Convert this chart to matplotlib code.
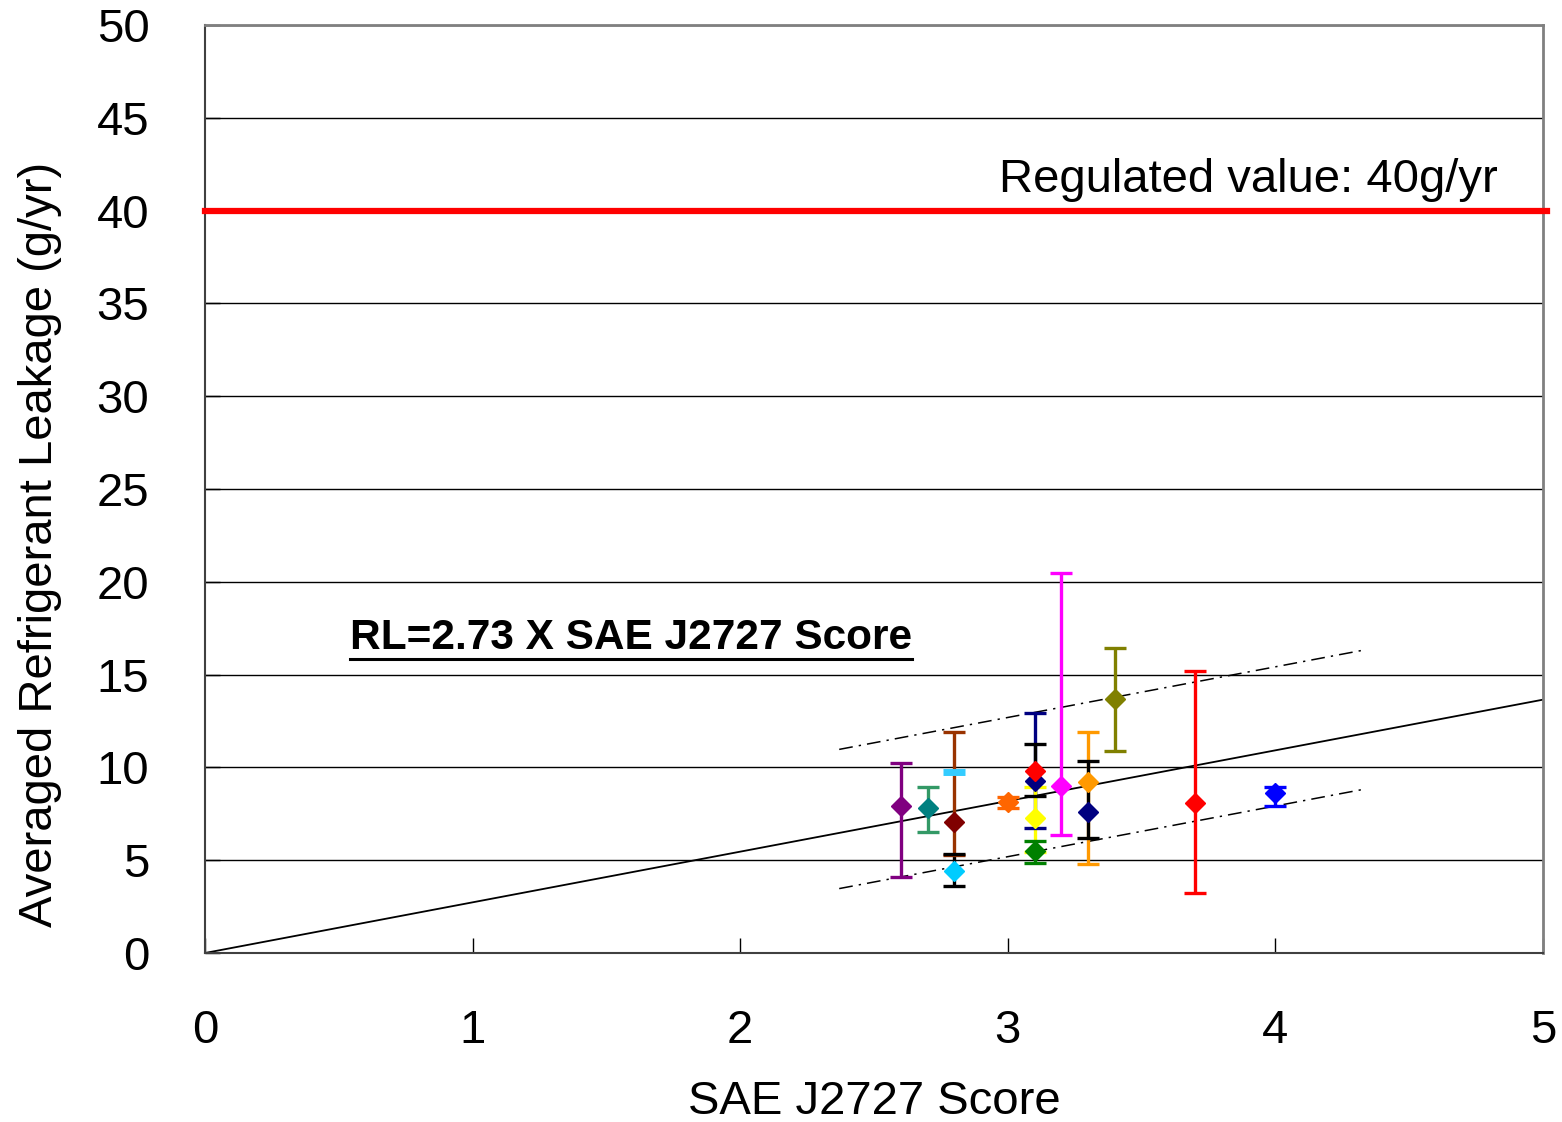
import numpy as np
import matplotlib.pyplot as plt
from matplotlib.lines import Line2D

plt.rcParams['font.family'] = ['Liberation Sans', 'DejaVu Sans']

# Vehicle results: SAE J2727 score vs averaged leakage, with min/max range
score = [2.6, 2.7, 2.8, 2.8, 3.0, 3.1, 3.1, 3.1, 3.1, 3.2, 3.3, 3.3, 3.4, 3.7, 4.0]
leak = [7.94, 7.80, 7.08, 4.43, 8.15, 9.29, 9.82, 7.26, 5.51, 9.00, 9.23, 7.61, 13.67, 8.10, 8.60]
leak_lo = [4.11, 6.54, 5.30, 3.61, 7.80, 6.72, 8.46, 5.46, 4.83, 6.36, 4.80, 6.21, 10.88, 3.25, 7.94]
leak_hi = [10.22, 8.96, 11.92, 5.33, 8.39, 12.95, 11.24, 8.96, 6.03, 20.46, 11.92, 10.36, 16.45, 15.21, 8.96]
marker_col = ['#800080', '#008080', '#800000', '#00CCFF', '#FF6600', '#000080', '#FF0000',
              '#FFFF00', '#008000', '#FF00FF', '#FF9900', '#000080', '#808000', '#FF0000', '#0000FF']
bar_col = ['#800080', '#339966', '#993300', '#000000', '#FF6600', '#000080', '#000000',
           '#FFFF00', '#008000', '#FF00FF', '#FF9900', '#000000', '#808000', '#FF0000', '#0000FF']

# single dash-marker point
dash_x, dash_y = [2.8], [9.77]

slope = 2.73
band_x = [2.37, 4.32]
band_hi_off = 4.5
band_lo_off = -3.0
regulated = 40

fig = plt.figure(figsize=(15.62, 11.22), dpi=100)
ax = fig.add_axes([205/1562, 1-953/1122, (1543-205)/1562, (953-25)/1122])

ax.set_xlim(0, 5)
ax.set_ylim(0, 50)
ax.set_xticks(range(0, 6))
ax.set_yticks(range(0, 51, 5))
ax.yaxis.grid(True, color='black', lw=1)
ax.set_axisbelow(True)
ax.tick_params(axis='both', direction='in', length=11, width=1, labelsize=34)
ax.tick_params(axis='x', pad=40)
ax.tick_params(axis='y', pad=40)
for s in ['top', 'right']:
    ax.spines[s].set_color('#808080')
    ax.spines[s].set_linewidth(2)
ax.spines['left'].set_color('#404040')
ax.spines['bottom'].set_color('#404040')
ax.spines['left'].set_linewidth(1.5)
ax.spines['bottom'].set_linewidth(1.5)

# regulated limit
ax.axhline(regulated, color='#FF0000', lw=4.5, zorder=3, clip_on=False, xmax=1.003)
ax.text(4.83, 41.0, 'Regulated value: 40g/yr', fontsize=34, ha='right', va='baseline')

# fitted line and band
xs = np.array([0, 5])
ax.plot(xs, slope*xs, color='black', lw=1.3, zorder=2)
bx = np.array(band_x)
ax.plot(bx, slope*bx + band_hi_off, color='black', lw=1.1, ls=(0, (9, 4, 1.5, 4)), zorder=2)
ax.plot(bx, slope*bx + band_lo_off, color='black', lw=1.1, ls=(0, (9, 4, 1.5, 4)), zorder=2)

# error bars first, then markers on top
for i in range(len(score)):
    yerr = [[leak[i] - leak_lo[i]], [leak_hi[i] - leak[i]]]
    _, caps, bars = ax.errorbar([score[i]], [leak[i]], yerr=yerr, fmt='none',
                                ecolor=bar_col[i], elinewidth=2.4, capsize=8, capthick=2.4)
    for c in caps:
        c.set_zorder(4)
    for b in bars:
        b.set_zorder(3)
for i in range(len(score)):
    ax.plot(score[i], leak[i], marker='D', ms=10, color=marker_col[i], ls='none', zorder=5)
ax.plot(dash_x, dash_y, marker='_', ms=16, mew=5, color='#33CCFF', ls='none', zorder=5)

t = ax.text(0.54, 16.95, 'RL=2.73 X SAE J2727 Score', fontsize=30.5, fontweight='bold',
            ha='left', va='center')

ax.set_xlabel('SAE J2727 Score', fontsize=34)
ax.set_ylabel('Averaged Refrigerant Leakage (g/yr)', fontsize=34)
ax.xaxis.set_label_coords(0.5, -0.137)
ax.yaxis.set_label_coords(-0.107, 0.44)

# underline the equation text
fig.canvas.draw()
bb = t.get_window_extent()
uy = bb.y0 - 1
fig.add_artist(Line2D([bb.x0/fig.bbox.width, bb.x1/fig.bbox.width],
                      [uy/fig.bbox.height, uy/fig.bbox.height],
                      transform=fig.transFigure, color='black', lw=2.2))

plt.savefig('out.png', dpi=100)
